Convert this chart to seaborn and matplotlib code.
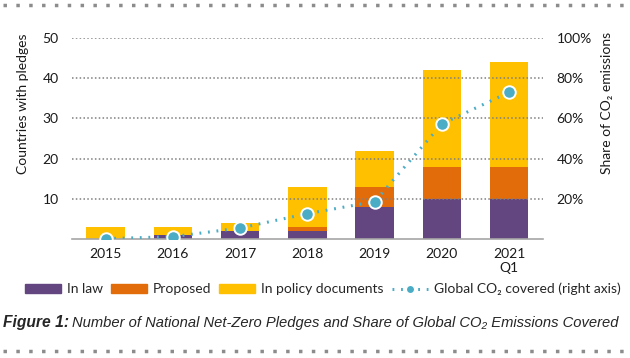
import numpy as np
import pandas as pd
import matplotlib.pyplot as plt
import matplotlib.lines as mlines
import matplotlib.patches as mpatches
import seaborn as sns

# Datos
years = ["2015", "2016", "2017", "2018", "2019", "2020", "2021\nQ1"]
in_law = [0, 1, 2, 2, 8, 10, 10]
proposed = [0, 0, 0, 1, 5, 8, 8]
in_policy = [3, 2, 2, 10, 9, 24, 26]
co2_share = [0.3, 1.3, 5.6, 12.7, 18.7, 57.2, 72.9]

C_LAW = "#634580"
C_PROP = "#E36C0A"
C_POL = "#FFC000"
C_LINE = "#4BACC6"
GRID = "#7f7f7f"

sns.set_theme(style="white")
plt.rcParams["font.family"] = ["Lato", "DejaVu Sans"]

df = pd.DataFrame({"year": years, "law": in_law, "prop": proposed, "pol": in_policy})
df["law_prop"] = df["law"] + df["prop"]
df["total"] = df["law_prop"] + df["pol"]
df["pos"] = np.arange(len(years))
df["share"] = co2_share

fig = plt.figure(figsize=(6.3, 3.58), dpi=100)
ax = fig.add_axes([0.1143, 0.3316, 0.7471, 0.5631])

# Barras apiladas: total, luego parcial encima
bw = 0.57
for col, c in [("total", C_POL), ("law_prop", C_PROP), ("law", C_LAW)]:
    sns.barplot(data=df, x="year", y=col, color=c, width=bw, saturation=1,
                linewidth=0, ax=ax, zorder=1)

ax.set_xlim(-0.5, len(years) - 0.5)
ax.set_ylim(0, 50)
ax.set_yticks([10, 20, 30, 40, 50])
for yv in [10, 20, 30, 40, 50]:
    ax.axhline(yv, color=GRID, ls=(0, (1, 1.5)), lw=1.1, zorder=2)
for s in ["top", "right", "left"]:
    ax.spines[s].set_visible(False)
ax.spines["bottom"].set_color("#a6a6a6")
ax.spines["bottom"].set_linewidth(1.2)
ax.spines["bottom"].set_zorder(3)
ax.tick_params(axis="both", length=0, labelsize=10, colors="#1a1a1a", pad=6)
ax.tick_params(axis="y", pad=9.5)
ax.set_xlabel("")
ax.set_ylabel("Countries with pledges", fontsize=10, color="#1a1a1a")
ax.yaxis.set_label_coords(-0.091, 0.674)

# Eje derecho: porcentaje de CO2
ax2 = ax.twinx()
sns.lineplot(data=df, x="pos", y="share", ax=ax2, color=C_LINE, lw=2.2,
             ls=(0, (0.6, 2.2)), marker="o", markersize=9, markerfacecolor=C_LINE,
             markeredgecolor="white", markeredgewidth=1.4, zorder=4)
ax2.set_ylim(0, 100)
ax2.set_yticks([20, 40, 60, 80, 100])
ax2.set_yticklabels([f"{v}%" for v in [20, 40, 60, 80, 100]])
for s in ["top", "right", "left", "bottom"]:
    ax2.spines[s].set_visible(False)
ax2.tick_params(axis="y", length=0, labelsize=10, colors="#1a1a1a", pad=10)
ax2.set_ylabel("Share of CO₂ emissions", fontsize=10, color="#1a1a1a")
ax2.yaxis.set_label_coords(1.124, 0.674)
ax2.set_xlim(-0.5, len(years) - 0.5)

# Leyenda
handles = [
    mpatches.Patch(color=C_LAW, label="In law"),
    mpatches.Patch(color=C_PROP, label="Proposed"),
    mpatches.Patch(color=C_POL, label="In policy documents"),
    mlines.Line2D([], [], color=C_LINE, lw=2.2, ls=(0, (0.6, 2.2)), marker="o", markersize=6,
                  markerfacecolor=C_LINE, markeredgecolor="white", label="Global CO₂ covered (right axis)"),
]
fig.legend(handles=handles, loc="center", bbox_to_anchor=(0.512, 0.193), ncol=4, frameon=False,
           fontsize=10, handlelength=2.6, handleheight=0.6, handletextpad=0.4, columnspacing=0.6)

# Título (fuente estrecha no disponible: se ajusta el tamaño al ancho)
title_font = ["Liberation Sans", "DejaVu Sans"]
t1 = fig.text(3 / 630, 0.098, "Figure 1:", fontsize=11, style="italic", weight="bold",
              family=title_font, va="center", ha="left")
t2 = fig.text(72 / 630, 0.098, "Number of National Net-Zero Pledges and Share of Global CO₂ Emissions Covered",
              fontsize=11, style="italic", family=title_font, va="center", ha="left")
fig.canvas.draw()
r = fig.canvas.get_renderer()
w1 = t1.get_window_extent(r).width
t1.set_fontsize(11 * 66 / w1)
w2 = t2.get_window_extent(r).width
t2.set_fontsize(11 * 545 / w2)

# Líneas punteadas decorativas arriba y abajo
for yy in [0.986, 0.02]:
    fig.add_artist(mlines.Line2D([0.005, 0.995], [yy, yy], transform=fig.transFigure,
                                 color="#8c8c8c", lw=2.5, ls=(0, (1, 2.7))))

fig.savefig("out.png", dpi=100)
